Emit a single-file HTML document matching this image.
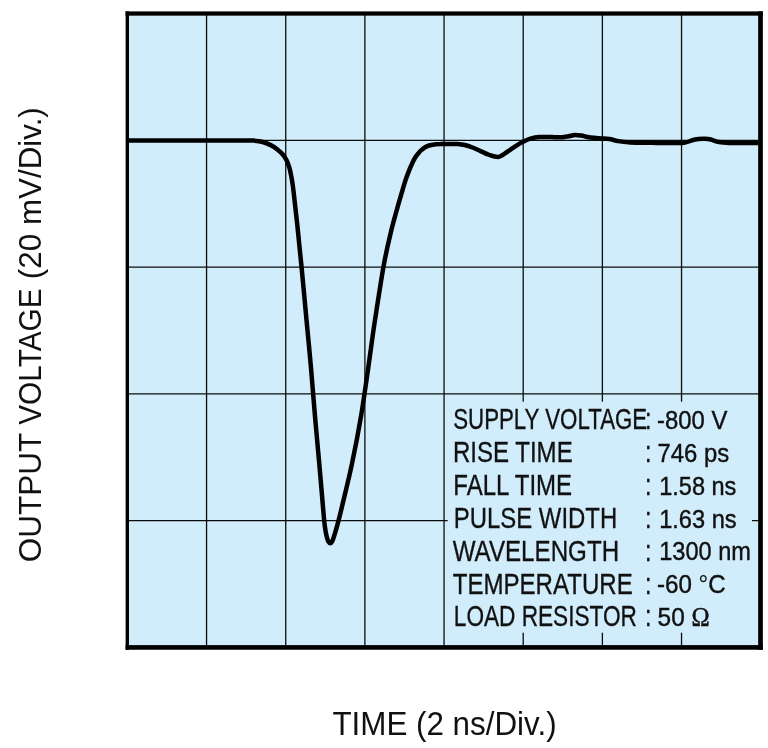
<!DOCTYPE html>
<html lang="en"><head><meta charset="utf-8"><title>Output waveform</title>
<style>
html,body{margin:0;padding:0;background:#fff;}
body{width:768px;height:748px;overflow:hidden;}
svg{display:block;}
text{font-family:"Liberation Sans",sans-serif;fill:#111;}
.l{stroke:#111;stroke-width:0.32;}
.v{font-size:26.5px;stroke:#111;stroke-width:0.42;}
</style></head><body>
<svg width="768" height="748" viewBox="0 0 768 748">
<rect x="0" y="0" width="768" height="748" fill="#fff"/>
<rect x="127.4" y="13.5" width="633.3" height="633.9" fill="#d1ecfa"/>
<g stroke="#0c0c0c" stroke-width="1.3" fill="none"><line x1="206.56" y1="13.5" x2="206.56" y2="647.4"/><line x1="285.73" y1="13.5" x2="285.73" y2="647.4"/><line x1="364.89" y1="13.5" x2="364.89" y2="647.4"/><line x1="444.05" y1="13.5" x2="444.05" y2="647.4"/><line x1="523.21" y1="13.5" x2="523.21" y2="647.4"/><line x1="602.38" y1="13.5" x2="602.38" y2="647.4"/><line x1="681.54" y1="13.5" x2="681.54" y2="647.4"/><line x1="127.4" y1="140.28" x2="760.7" y2="140.28"/><line x1="127.4" y1="267.06" x2="760.7" y2="267.06"/><line x1="127.4" y1="393.84" x2="760.7" y2="393.84"/><line x1="127.4" y1="520.62" x2="760.7" y2="520.62"/></g>
<rect x="447.7" y="401.7" width="304.3" height="231" fill="#d1ecfa"/>
<path d="M128.5 140.4C140.4 140.4 181.4 140.5 200.0 140.4C218.6 140.4 231.1 140.4 240.0 140.4C248.9 140.4 249.6 140.3 253.4 140.6C257.2 140.9 259.8 141.2 262.7 142.0C265.6 142.8 268.2 143.9 270.7 145.1C273.1 146.3 275.4 147.8 277.4 149.4C279.4 151.0 281.2 152.6 282.8 154.5C284.4 156.4 285.7 158.5 286.8 160.8C287.9 163.1 288.7 165.3 289.5 168.1C290.3 170.9 290.8 173.7 291.5 177.5C292.2 181.3 292.6 183.1 293.5 190.9C294.4 198.7 295.9 211.5 297.2 224.1C298.5 236.7 299.9 250.6 301.5 266.6C303.1 282.6 304.9 303.1 306.5 320.0C308.1 336.9 309.6 352.1 311.0 368.1C312.4 384.2 313.6 400.3 315.0 416.3C316.4 432.3 317.9 448.4 319.3 464.1C320.7 479.8 322.4 500.2 323.3 510.6C324.2 521.0 324.3 522.3 324.9 526.6C325.4 530.9 326.0 533.8 326.6 536.3C327.2 538.8 327.7 540.2 328.3 541.4C328.9 542.5 329.6 543.2 330.2 543.2C330.8 543.2 331.5 542.7 332.2 541.4C332.9 540.1 333.5 538.2 334.4 535.2C335.3 532.2 336.6 528.0 337.8 523.4C339.0 518.8 339.5 517.3 341.8 507.4C344.1 497.5 348.7 479.3 351.9 464.1C355.1 448.9 358.3 432.3 361.0 416.3C363.7 400.3 365.9 384.2 368.2 368.1C370.5 352.1 372.4 336.9 375.0 320.0C377.6 303.1 380.9 281.2 383.5 266.6C386.1 252.0 388.6 241.9 390.8 232.5C393.0 223.1 395.1 216.3 396.8 210.0C398.5 203.7 399.8 199.6 401.1 194.9C402.5 190.2 403.8 185.6 404.9 182.1C406.0 178.6 406.7 176.8 407.7 174.1C408.7 171.4 409.8 168.7 411.0 166.0C412.2 163.3 413.6 160.1 414.9 158.0C416.1 155.9 417.4 154.5 418.5 153.2C419.6 151.8 420.3 151.0 421.6 149.9C422.9 148.8 424.4 147.4 426.2 146.6C428.0 145.8 430.2 145.2 432.6 144.8C435.0 144.4 437.7 144.2 440.6 144.1C443.5 143.9 447.2 143.9 450.0 143.9C452.8 143.9 455.1 143.8 457.5 144.0C459.9 144.2 462.2 144.4 464.7 145.0C467.2 145.6 469.9 146.5 472.5 147.5C475.1 148.5 477.7 149.8 480.3 151.0C482.9 152.2 485.9 153.6 488.1 154.5C490.3 155.4 491.8 155.8 493.5 156.2C495.2 156.6 496.9 157.0 498.2 156.9C499.5 156.8 500.3 156.3 501.4 155.8C502.5 155.3 503.3 154.5 504.6 153.7C505.9 152.8 506.9 152.1 509.0 150.7C511.1 149.3 514.5 146.8 516.9 145.3C519.2 143.8 520.7 142.8 523.1 141.7C525.5 140.5 528.6 139.2 531.3 138.4C534.0 137.6 536.5 137.2 539.1 137.0C541.7 136.8 544.3 136.9 546.9 136.9C549.5 136.9 552.1 137.1 554.7 137.2C557.3 137.2 560.1 137.3 562.5 137.2C564.9 137.0 566.7 136.7 568.8 136.3C570.9 135.9 572.9 135.1 575.0 135.0C577.1 134.9 579.2 135.3 581.3 135.6C583.4 135.9 585.4 136.6 587.5 137.0C589.6 137.4 591.4 137.6 593.8 137.8C596.2 138.0 599.3 138.2 601.9 138.4C604.5 138.6 606.7 138.7 609.4 139.1C612.1 139.5 614.7 140.5 618.2 141.1C621.7 141.7 625.1 142.1 630.6 142.4C636.1 142.7 644.2 142.7 651.1 142.8C658.0 142.9 666.2 143.0 671.7 143.0C677.2 143.0 680.7 143.2 684.1 142.8C687.5 142.4 689.9 140.9 692.3 140.3C694.7 139.7 696.5 139.4 698.5 139.1C700.5 138.8 702.6 138.6 704.6 138.7C706.6 138.8 708.4 138.9 710.8 139.5C713.2 140.1 715.9 141.4 719.0 142.0C722.1 142.6 725.0 142.8 729.3 143.0C733.6 143.2 740.1 143.0 745.0 143.0C749.9 143.0 756.3 143.0 758.6 143.0" fill="none" stroke="#000" stroke-width="4.5" stroke-linejoin="round" stroke-linecap="butt"/>
<g fill="#000"><rect x="125.6" y="11.4" width="3.4" height="638.35"/><rect x="125.6" y="11.4" width="637.25" height="4.25"/><rect x="758.15" y="11.4" width="4.7" height="638.35"/><rect x="125.6" y="645.1" width="637.25" height="4.65"/></g>
<g font-size="28.9" class="l"><text x="453.2" y="429.1" textLength="194.0" lengthAdjust="spacingAndGlyphs">SUPPLY VOLTAGE</text><text x="645.0" y="429.1" textLength="6.5" lengthAdjust="spacingAndGlyphs">:</text><text class="v" x="657.0" y="428.9" textLength="70.3" lengthAdjust="spacingAndGlyphs">-800 V</text><text x="452.9" y="461.9" textLength="119.8" lengthAdjust="spacingAndGlyphs">RISE TIME</text><text x="645.0" y="461.9" textLength="6.5" lengthAdjust="spacingAndGlyphs">:</text><text class="v" x="657.6" y="461.8" textLength="71.6" lengthAdjust="spacingAndGlyphs">746 ps</text><text x="453.3" y="494.8" textLength="118.8" lengthAdjust="spacingAndGlyphs">FALL TIME</text><text x="645.0" y="494.8" textLength="6.5" lengthAdjust="spacingAndGlyphs">:</text><text class="v" x="659.2" y="494.7" textLength="77.2" lengthAdjust="spacingAndGlyphs">1.58 ns</text><text x="453.8" y="527.7" textLength="163.4" lengthAdjust="spacingAndGlyphs">PULSE WIDTH</text><text x="645.0" y="527.7" textLength="6.5" lengthAdjust="spacingAndGlyphs">:</text><text class="v" x="659.2" y="527.5" textLength="77.4" lengthAdjust="spacingAndGlyphs">1.63 ns</text><text x="452.7" y="560.6" textLength="166.4" lengthAdjust="spacingAndGlyphs">WAVELENGTH</text><text x="645.0" y="560.6" textLength="6.5" lengthAdjust="spacingAndGlyphs">:</text><text class="v" x="659.2" y="560.4" textLength="91.7" lengthAdjust="spacingAndGlyphs">1300 nm</text><text x="452.7" y="593.5" textLength="180.1" lengthAdjust="spacingAndGlyphs">TEMPERATURE</text><text x="645.0" y="593.5" textLength="6.5" lengthAdjust="spacingAndGlyphs">:</text><text class="v" x="657.0" y="593.3" textLength="68.7" lengthAdjust="spacingAndGlyphs">-60 <tspan stroke-width="0.1">°</tspan>C</text><text x="453.8" y="626.3" textLength="183.1" lengthAdjust="spacingAndGlyphs">LOAD RESISTOR</text><text x="645.0" y="626.3" textLength="6.5" lengthAdjust="spacingAndGlyphs">:</text><text class="v" x="657.6" y="626.18" textLength="52.1" lengthAdjust="spacingAndGlyphs">50 <tspan font-family="'Liberation Serif', serif" stroke-width="0.5">Ω</tspan></text></g>
<text id="xl" x="332.4" y="735.1" font-size="32.4" textLength="224.2" lengthAdjust="spacingAndGlyphs">TIME (2 ns/Div.)</text>
<g id="yl" transform="translate(41.2,0) rotate(-90)" font-size="32.2">
<text x="-562.2" y="0" textLength="129.5" lengthAdjust="spacingAndGlyphs">OUTPUT</text>
<text x="-424.8" y="0" textLength="136.5" lengthAdjust="spacingAndGlyphs">VOLTAGE</text>
<text x="-279.2" y="0" textLength="172" lengthAdjust="spacingAndGlyphs">(20 mV/Div.)</text>
</g>
</svg>
</body></html>
